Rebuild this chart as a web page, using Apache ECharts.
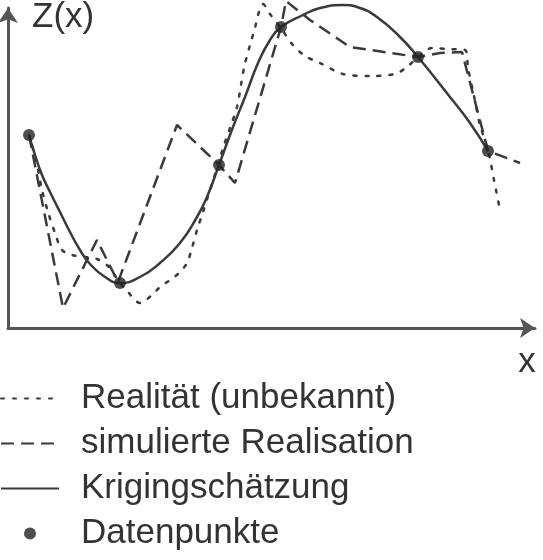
<!DOCTYPE html>
<html>
<head>
<meta charset="utf-8">
<script src="https://cdn.jsdelivr.net/npm/echarts@6/dist/echarts.min.js"></script>
<style>
html,body{margin:0;padding:0;background:#fff;}
#chart{width:543px;height:560px;}
</style>
</head>
<body>
<div id="chart"></div>
<script>
// Legend / series names
const seriesNames = ['Realität (unbekannt)', 'simulierte Realisation', 'Krigingschätzung', 'Datenpunkte'];

// Realität (unbekannt) – dotted line [x, Z(x)]
const realitaet = [
  [2.1,19.3],[2.8,16.8],[3.4,13.8],[4.0,11.6],[4.7,9.5],[5.4,7.8],[6.4,7.3],[7.7,7.1],
  [8.9,6.9],[10.0,6.2],[11.0,4.8],[12.0,3.6],[13.2,2.5],[14.4,3.3],[15.2,4.1],[16.2,4.8],
  [17.1,5.5],[17.9,6.5],[18.4,8.0],[18.9,9.8],[19.5,11.6],[20.2,13.8],[21.0,16.3],
  [21.6,18.3],[22.2,20.0],[22.9,22.1],[23.6,26.0],[24.2,28.3],[24.7,30.0],[25.0,31.3],
  [25.5,32.4],[26.2,31.4],[27.3,30.0],[28.4,28.4],[29.7,27.2],[31.2,26.5],[33.5,25.4],
  [36.2,25.2],[38.7,25.4],[39.9,26.1],[41.0,27.1],[42.4,28.0],[44.0,27.9],[45.7,27.8],
  [46.0,26.0],[46.6,23.2],[47.2,20.3],[48.0,17.8],[48.6,14.8],[49.2,11.8]
];

// simulierte Realisation – dashed line
const simulation = [
  [2.1,19.3],[5.5,2.0],[8.9,8.8],[11.0,4.6],[16.9,20.3],[21.1,16.3],[22.7,14.5],
  [27.3,30.1],[27.8,32.7],[30.2,30.8],[34.2,28.1],[41.0,27.1],[43.2,27.5],[45.4,27.6],
  [48.0,17.7],[51.2,16.5]
];

// Krigingschätzung – solid line
const kriging = [
  [2.1,19.3],[2.7,17.3],[3.4,15.3],[4.2,13.6],[5.2,11.6],[6.2,9.6],[7.2,7.8],[8.2,6.4],
  [9.7,5.1],[11.2,4.5],[13.2,5.1],[15.2,6.5],[17.2,8.5],[18.9,11.1],[19.9,13.1],
  [21.1,16.3],[22.5,20.1],[23.7,23.1],[25.0,26.5],[26.2,28.8],[27.3,30.1],[29.5,31.3],
  [31.2,32.0],[33.5,32.3],[35.2,32.0],[36.9,31.1],[39.2,29.1],[41.0,27.1],[44.2,23.1],
  [46.2,20.5],[48.0,17.7]
];

// Datenpunkte
const datenpunkte = [
  [2.1,19.3],[11.2,4.5],[21.1,16.3],[27.3,30.1],[41.0,27.1],[48.0,17.7]
];

const FONT = "'Liberation Sans Narrow', 'Liberation Sans', Arial, sans-serif";
const LINE = '#3a3a3a';
const AXIS = '#555';
const NOFILL = 'rgba(0,0,0,0)';

const chart = echarts.init(document.getElementById('chart'), null, {renderer: 'canvas'});
chart.setOption({
  animation: false,
  backgroundColor: '#fff',
  grid: {left: 8, right: 8, top: 8, bottom: 232, containLabel: false},
  xAxis: {
    type: 'value', min: 0, max: 52.7,
    name: 'x', nameLocation: 'end', nameGap: -8,
    nameTextStyle: {fontFamily: FONT, fontSize: 35, color: '#333', align: 'center', verticalAlign: 'top', padding: [17,0,0,0]},
    axisLine: {show: true, symbol: ['none','arrow'], symbolSize: [15,15], lineStyle: {color: AXIS, width: 3}},
    axisTick: {show: false}, axisLabel: {show: false}, splitLine: {show: false}
  },
  yAxis: {
    type: 'value', min: 0, max: 32,
    name: 'Z(x)', nameLocation: 'end', nameGap: 8,
    nameTextStyle: {fontFamily: FONT, fontSize: 35, color: '#333', align: 'left', verticalAlign: 'top', padding: [0,0,0,24]},
    axisLine: {show: true, symbol: ['none','arrow'], symbolSize: [15,15], lineStyle: {color: AXIS, width: 3}},
    axisTick: {show: false}, axisLabel: {show: false}, splitLine: {show: false}
  },
  legend: {
    orient: 'vertical', left: 0, top: 376, bottom: 0, padding: 0,
    itemWidth: 58, itemHeight: 12, itemGap: 0,
    selectedMode: false,
    data: seriesNames,
    textStyle: {fontFamily: FONT, fontSize: 35, lineHeight: 45, color: '#333', padding: [0,0,0,17]}
  },
  series: [
    {
      name: seriesNames[0], type: 'line', data: realitaet, smooth: 0.3, symbol: 'none', clip: false,
      lineStyle: {color: LINE, width: 2.5, type: [3,9], cap: 'round'}, itemStyle: {color: NOFILL, borderWidth: 0}, z: 2
    },
    {
      name: seriesNames[1], type: 'line', data: simulation, smooth: false, symbol: 'none', clip: false,
      lineStyle: {color: LINE, width: 2.5, type: [13,7]}, itemStyle: {color: NOFILL, borderWidth: 0}, z: 2
    },
    {
      name: seriesNames[2], type: 'line', data: kriging, smooth: true, symbol: 'none', clip: false,
      lineStyle: {color: LINE, width: 2.5, type: 'solid'}, itemStyle: {color: NOFILL, borderWidth: 0}, z: 3
    },
    {
      name: seriesNames[3], type: 'scatter', data: datenpunkte, symbol: 'circle', symbolSize: 12, clip: false,
      itemStyle: {color: '#222'}, z: 4
    }
  ]
});
</script>
</body>
</html>
